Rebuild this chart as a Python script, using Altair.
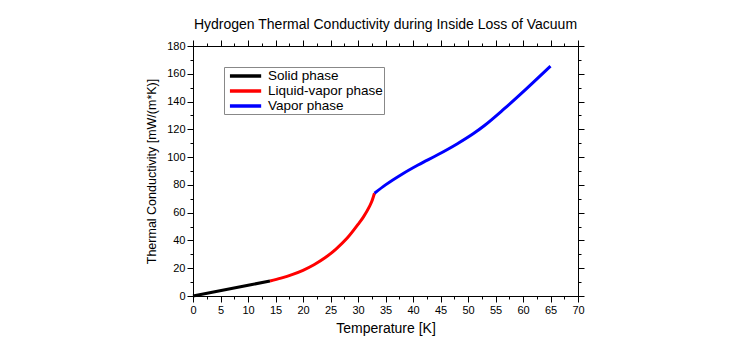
import altair as alt
import pandas as pd

# ---- data ----
solid_t = [0, 7, 14]
solid_k = [0, 5.4, 10.8]

liquid_t = [14, 16, 18, 20, 22, 24, 26, 28, 30, 31, 32, 32.5, 33]
liquid_k = [10.8, 12.9, 15.4, 18.5, 22.5, 27.5, 33.8, 41.5, 51.5, 57, 63.8, 68, 74]

vapor_t = [33, 35, 38, 41, 44.4, 48, 51, 53, 56.5, 60.7, 65]
vapor_k = [74, 80, 87.7, 94.5, 101.5, 109.5, 117, 122.8, 134.5, 149.5, 165.5]

phases = ["Solid phase", "Liquid-vapor phase", "Vapor phase"]
colors = ["#000000", "#ff0000", "#0000ff"]

x_ticks = [i * 2.5 for i in range(29)]    # 0..70, majors every 5
y_ticks = [i * 10 for i in range(19)]     # 0..180, majors every 20

rows = []
for name, ts, ks in zip(phases, [solid_t, liquid_t, vapor_t], [solid_k, liquid_k, vapor_k]):
    for i, (t, k) in enumerate(zip(ts, ks)):
        rows.append({"phase": name, "T": t, "k": k, "order": i})
df = pd.DataFrame(rows)

FONT = "Liberation Sans"

x_scale = alt.Scale(domain=[0, 70], nice=False, zero=False)
y_scale = alt.Scale(domain=[0, 180], nice=False, zero=False)

x_tick_size = {"condition": {"test": "datum.value % 5 === 0", "value": 6}, "value": 3}
y_tick_size = {"condition": {"test": "datum.value % 20 === 0", "value": 6}, "value": 3}

base = alt.Chart(df)

lines = base.mark_line(strokeWidth=3, interpolate="monotone").encode(
    x=alt.X("T:Q", scale=x_scale,
            axis=alt.Axis(orient="bottom", values=x_ticks, tickSize=x_tick_size,
                          labelExpr="datum.value % 5 === 0 ? datum.label : ''",
                          labelOverlap=False, labelFlush=False,
                          title="Temperature [K]", titlePadding=6, titleFontSize=14)),
    y=alt.Y("k:Q", scale=y_scale,
            axis=alt.Axis(orient="left", values=y_ticks, tickSize=y_tick_size,
                          labelExpr="datum.value % 20 === 0 ? datum.label : ''",
                          labelOverlap=False, labelFlush=False,
                          title="Thermal Conductivity [mW/(m*K)]", titlePadding=8,
                          titleFontSize=12.5)),
    color=alt.Color("phase:N",
                    scale=alt.Scale(domain=phases, range=colors),
                    sort=phases,
                    legend=alt.Legend(title=None, orient="none", legendX=31, legendY=21,
                                      symbolType="M-0.5,0H4.6", symbolSize=150,
                                      symbolStrokeWidth=3.5,
                                      labelFont=FONT, labelFontSize=13.5,
                                      labelColor="black",
                                      strokeColor="#888888", fillColor="white",
                                      padding=1, rowPadding=0, labelOffset=27)),
    order="order:Q",
    detail="phase:N",
)

mirror = base.mark_line(opacity=0).encode(
    x=alt.X("T:Q", scale=x_scale,
            axis=alt.Axis(orient="top", values=x_ticks, tickSize=x_tick_size,
                          labels=False, title=None)),
    y=alt.Y("k:Q", scale=y_scale,
            axis=alt.Axis(orient="right", values=y_ticks, tickSize=y_tick_size,
                          labels=False, title=None)),
    detail="phase:N",
)

chart = alt.layer(lines, mirror).resolve_axis(
    x="independent", y="independent"
).properties(
    width=385, height=250,
    title=alt.TitleParams("Hydrogen Thermal Conductivity during Inside Loss of Vacuum",
                          font=FONT, fontSize=14, fontWeight="normal", color="black",
                          anchor="middle", offset=8),
    autosize=alt.AutoSizeParams(type="none"),
    padding={"left": 193, "top": 46, "right": 172, "bottom": 54},
).configure_view(
    stroke="black", strokeWidth=1
).configure_axis(
    domainColor="black", tickColor="black", labelColor="black", titleColor="black",
    labelFont=FONT, titleFont=FONT, labelFontSize=11, titleFontSize=13,
    titleFontWeight="normal", grid=False, domainWidth=1, tickWidth=1, labelPadding=2,
)

chart.save("out.html", embed_options={"renderer": "svg", "actions": False})
